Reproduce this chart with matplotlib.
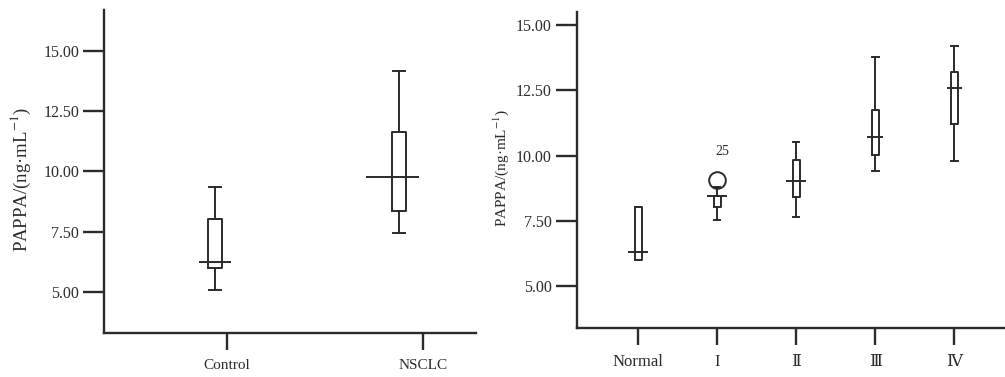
import matplotlib.pyplot as plt

plt.rcParams['font.family'] = ['Liberation Serif', 'DejaVu Serif', 'Noto Sans CJK SC']
plt.rcParams['mathtext.fontset'] = 'stix'

# left panel: Control vs NSCLC
groups = ['Control', 'NSCLC']
g_whislo = [5.08, 7.46]
g_q1 = [6.01, 8.36]
g_med = [6.24, 9.79]
g_q3 = [8.03, 11.63]
g_whishi = [9.37, 14.17]

# right panel: by stage
stages = ['Normal', 'I', 'Ⅱ', 'Ⅲ', 'Ⅳ']
s_whislo = [6.00, 7.54, 7.63, 9.41, 9.81]
s_q1 = [6.00, 8.03, 8.42, 10.02, 11.21]
s_med = [6.30, 8.46, 9.03, 10.72, 12.61]
s_q3 = [8.04, 8.46, 9.83, 11.74, 13.22]
s_whishi = [8.04, 8.79, 10.54, 13.80, 14.21]
s_fliers = [[], [9.08], [], [], []]
outlier_id = '25'

yticks = [5.0, 7.5, 10.0, 12.5, 15.0]
ylabel = 'PAPPA/(ng·mL$^{-1}$)'
col = '#2b2b2b'


def stats(lo, q1, med, q3, hi, fl=None):
    out = []
    for i in range(len(med)):
        out.append(dict(whislo=lo[i], q1=q1[i], med=med[i], q3=q3[i], whishi=hi[i],
                        fliers=(fl[i] if fl else [])))
    return out


def style(ax, tsize):
    for s in ['top', 'right']:
        ax.spines[s].set_visible(False)
    for s in ['left', 'bottom']:
        ax.spines[s].set_linewidth(1.7)
        ax.spines[s].set_color(col)
    ax.tick_params(axis='y', length=15, width=1.7, color=col, labelsize=11.5, pad=3, labelcolor=col)
    ax.tick_params(axis='x', length=12, width=1.7, color=col, labelsize=tsize, pad=7, labelcolor=col)
    ax.set_yticks(yticks)
    ax.set_yticklabels(['%.2f' % v for v in yticks])


fig = plt.figure(figsize=(10.05, 3.77), dpi=100)
ax1 = fig.add_axes([0.1035, 0.1167, 0.370, 0.8568])
ax2 = fig.add_axes([0.574, 0.1308, 0.426, 0.8382])

lp = dict(color=col, linewidth=1.4)

# left
pos1 = [0.94, 1.878]
ax1.bxp(stats(g_whislo, g_q1, g_med, g_q3, g_whishi), positions=pos1, widths=0.072,
        boxprops=lp, whiskerprops=lp, capprops=lp, medianprops=dict(linewidth=0),
        capwidths=0.062, manage_ticks=False)
med_x = [0.94, 1.846]
med_hw = [0.082, 0.136]
for i in range(len(groups)):
    ax1.hlines(g_med[i], med_x[i] - med_hw[i], med_x[i] + med_hw[i], **lp)
ax1.set_xticks([1, 2])
ax1.set_xticklabels(groups)
ax1.set_xlim(0.372, 2.27)
ax1.set_ylim(3.30, 16.7)
style(ax1, 11)
ax1.set_ylabel(ylabel, fontsize=13.5, color=col)
ax1.yaxis.set_label_coords(-0.19, 0.474)

# right
pos2 = [1, 2, 3, 4, 5]
ax2.bxp(stats(s_whislo, s_q1, s_med, s_q3, s_whishi, s_fliers), positions=pos2, widths=0.09,
        boxprops=lp, whiskerprops=lp, capprops=lp, medianprops=dict(linewidth=0),
        flierprops=dict(marker='o', markersize=12, markerfacecolor='none',
                        markeredgecolor=col, markeredgewidth=1.4),
        capwidths=0.08, manage_ticks=False)
med_hw2 = [0.13, 0.125, 0.125, 0.1, 0.1]
for i in range(len(stages)):
    ax2.hlines(s_med[i], pos2[i] - med_hw2[i], pos2[i] + med_hw2[i], **lp)
ax2.text(2.07, 10.16, outlier_id, fontsize=10, ha='center', va='center', color=col)
ax2.set_xticks(pos2)
ax2.set_xticklabels(stages)
ax2.set_xlim(0.224, 5.64)
ax2.set_ylim(3.40, 15.52)
style(ax2, 12)
ax2.set_ylabel(ylabel, fontsize=11, color=col)
ax2.yaxis.set_label_coords(-0.155, 0.507)

fig.savefig('out.png', dpi=100)
